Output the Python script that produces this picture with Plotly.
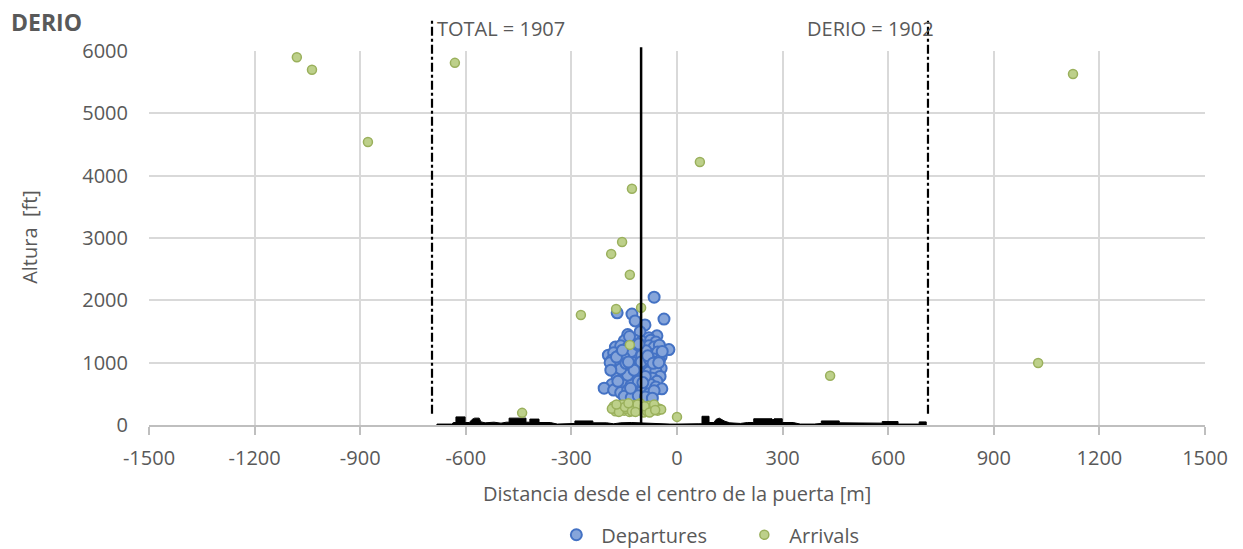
import plotly.graph_objects as go

# ---------------- data ----------------
x_ticks = [-1500, -1200, -900, -600, -300, 0, 300, 600, 900, 1200, 1500]
x_tick_labels = ["-1500", "-1200", "-900", "-600", "-300", "0", "300", "600", "900", "1200", "1500"]
y_ticks = [0, 1000, 2000, 3000, 4000, 5000, 6000]

dep_x = [-65, -170, -128, -37, -119, -91, -105, -23, -57, -140, -80,
         -150, -120, -100, -75, -60, -130,
         -175, -160, -140, -115, -95, -80, -65, -50,
         -195, -180, -160, -145, -125, -110, -90, -70, -55, -45,
         -185, -165, -150, -135, -115, -100, -85, -65, -50,
         -180, -165, -150, -130, -115, -100, -85, -70, -55, -45,
         -175, -160, -140, -125, -110, -95, -80, -60, -48,
         -170, -150, -135, -120, -100, -85, -70, -57,
         -185, -165, -150, -130, -110, -95, -75, -60, -43,
         -207, -180, -160, -140, -120, -100, -80, -65,
         -150, -130, -110, -90, -70,
         -125, -105, -95, -120, -140, -90, -115, -130, -100, -110, -150, -160,
         -135, -112, -88, -145, -102, -78, -122, -97,
         -190, -172, -155, -138, -108, -83, -68, -52, -42, -188, -168, -132]
dep_y = [2050, 1800, 1780, 1700, 1670, 1605, 1495, 1210, 1430, 1450, 1400,
         1350, 1360, 1340, 1360, 1330, 1320,
         1250, 1270, 1240, 1260, 1230, 1270, 1250, 1280,
         1120, 1160, 1140, 1170, 1130, 1180, 1150, 1130, 1170, 1100,
         1040, 1060, 1020, 1070, 1040, 1060, 1020, 1060, 1030,
         940, 960, 920, 970, 950, 930, 960, 920, 950, 910,
         860, 830, 870, 840, 860, 820, 850, 870, 780,
         760, 730, 770, 740, 760, 720, 750, 700,
         650, 620, 670, 640, 660, 620, 650, 610, 580,
         590, 560, 520, 560, 510, 540, 500, 550,
         460, 440, 470, 450, 430,
         1000, 1000, 1100, 900, 800, 780, 1200, 1180, 1120, 700, 1080, 900,
         1420, 1290, 1190, 990, 1010, 1050, 880, 680,
         1000, 1090, 1200, 1010, 1300, 1110, 990, 1000, 1180, 880, 700, 590]

arr_x = [-1080, -1037, -878, -631, 1125, 65, -128, -156, -187, -134, -173,
         -273, -102, -134, 435, 1026, -440, 0,
         -180, -170, -160, -150, -140, -130, -120, -110, -100, -90, -80, -70,
         -60, -50, -175, -155, -135, -115, -95, -75, -65, -105, -125, -145,
         -85, -55, -185, -45,
         -165, -148, -128, -112, -92, -78, -62, -172, -138, -118]
arr_y = [5900, 5700, 4540, 5810, 5630, 4220, 3790, 2935, 2745, 2410, 1860,
         1765, 1880, 1285, 790, 995, 195, 130,
         300, 250, 280, 230, 300, 260, 320, 240, 290, 250, 310, 230,
         280, 260, 220, 330, 210, 280, 200, 270, 330, 350, 300, 260,
         220, 230, 260, 250,
         210, 290, 220, 330, 300, 200, 240, 330, 350, 210]

terrain_x = [-682, -682, -640, -635, -628, -628, -602, -602, -590, -582, -575, -562,
             -557, -545, -520, -500, -485, -477, -477, -429, -429, -418, -418,
             -392, -392, -360, -340, -310, -305, -290, -290, -239, -239, -200,
             -180, -160, -130, -110, -90, -70, -50, -20, 0, 20, 60, 71, 71,
             91, 91, 105, 111, 120, 136, 150, 180, 200, 218, 218, 270, 273,
             276, 299, 299, 330, 350, 390, 400, 410, 410, 461, 461, 500, 560,
             583, 583, 628, 628, 680, 688, 688, 708, 708]
terrain_h = [0, 15, 15, 40, 40, 130, 130, 40, 40, 90, 110, 110,
             50, 35, 45, 30, 45, 45, 110, 110, 45, 45, 95,
             95, 40, 40, 15, 15, 25, 25, 65, 65, 35, 35,
             20, 35, 40, 35, 35, 25, 15, 15, 15, 20, 20, 20, 140,
             140, 40, 40, 90, 110, 60, 35, 25, 40, 40, 100, 100, 80,
             100, 100, 40, 40, 15, 15, 25, 25, 65, 65, 35, 35, 30,
             30, 55, 55, 15, 15, 15, 50, 50, 0]

gate_x = -102
limits_x = [-696, 713]
limit_labels = ["TOTAL = 1907", "DERIO = 1902"]
limit_label_x = [-500, 551]

GREY = "#595959"
FONT = "Open Sans"
FS = 20

fig = go.Figure()

fig.add_trace(go.Scatter(
    x=terrain_x, y=terrain_h, mode="lines", fill="tozeroy",
    line=dict(color="black", width=1), fillcolor="black",
    showlegend=False, hoverinfo="skip"))

fig.add_trace(go.Scatter(
    x=dep_x, y=dep_y, mode="markers", name="Departures",
    marker=dict(size=11, color="#86A5DA",
                line=dict(color="#4472C4", width=2))))

fig.add_trace(go.Scatter(
    x=arr_x, y=arr_y, mode="markers", name="Arrivals",
    marker=dict(size=9, color="#BDD08A",
                line=dict(color="#9AB05C", width=1.5))))

# vertical lines
fig.add_shape(type="line", xref="x", yref="paper", x0=gate_x, x1=gate_x,
              y0=0, y1=1.01, line=dict(color="black", width=2.5))
for lx in limits_x:
    fig.add_shape(type="line", xref="x", yref="paper", x0=lx, x1=lx,
                  y0=0.03, y1=1.085, line=dict(color="black", width=2.2, dash="dashdot"))

for t, lx in zip(limit_labels, limit_label_x):
    fig.add_annotation(text=t, x=lx, xref="x", y=1.061, yref="paper",
                       showarrow=False, font=dict(family=FONT, size=FS, color=GREY),
                       xanchor="center", yanchor="middle")

fig.add_annotation(text="<b>DERIO</b>", x=-0.133, xref="paper", y=1.078, yref="paper",
                   showarrow=False, xanchor="left", yanchor="middle",
                   font=dict(family=FONT, size=23, color=GREY))

fig.add_annotation(text="Distancia desde el centro de la puerta [m]", x=0.5, xref="paper",
                   y=-0.184, yref="paper", showarrow=False, xanchor="center", yanchor="middle",
                   font=dict(family=FONT, size=FS, color=GREY))
fig.add_annotation(text="Altura  [ft]", x=-0.1127, xref="paper", y=0.503, yref="paper",
                   showarrow=False, textangle=-90, xanchor="center", yanchor="middle",
                   font=dict(family=FONT, size=FS, color=GREY))

fig.update_layout(
    width=1243, height=549,
    margin=dict(l=149, r=38, t=51, b=124, autoexpand=False),
    plot_bgcolor="white", paper_bgcolor="white",
    font=dict(family=FONT, size=FS, color=GREY),
    showlegend=True,
    legend=dict(orientation="h", x=0.381, xanchor="left", y=0.026, yanchor="middle",
                yref="container", entrywidth=133,
                font=dict(family=FONT, size=FS, color=GREY), itemwidth=40),
    xaxis=dict(range=[-1500, 1500], tickvals=x_ticks, ticktext=x_tick_labels,
               showgrid=True, gridcolor="#D9D9D9", automargin=False,
               gridwidth=1.5, zeroline=False, showline=True, linecolor="#BFBFBF", linewidth=1.5,
               ticks="outside", ticklen=8, tickcolor="#BFBFBF", tickwidth=1.5,
               ticklabelstandoff=6,
               tickfont=dict(family=FONT, size=FS, color=GREY)),
    yaxis=dict(range=[0, 6000], tickvals=y_ticks, showgrid=True, gridcolor="#D9D9D9",
               gridwidth=1.5, zeroline=False, ticks="outside", ticklen=16,
               tickcolor="rgba(0,0,0,0)", automargin=False,
               tickfont=dict(family=FONT, size=FS, color=GREY)),
)

fig.write_html("out.html", config={"displayModeBar": False},
               post_script="document.body.style.margin='0';document.body.style.overflow='hidden';")
